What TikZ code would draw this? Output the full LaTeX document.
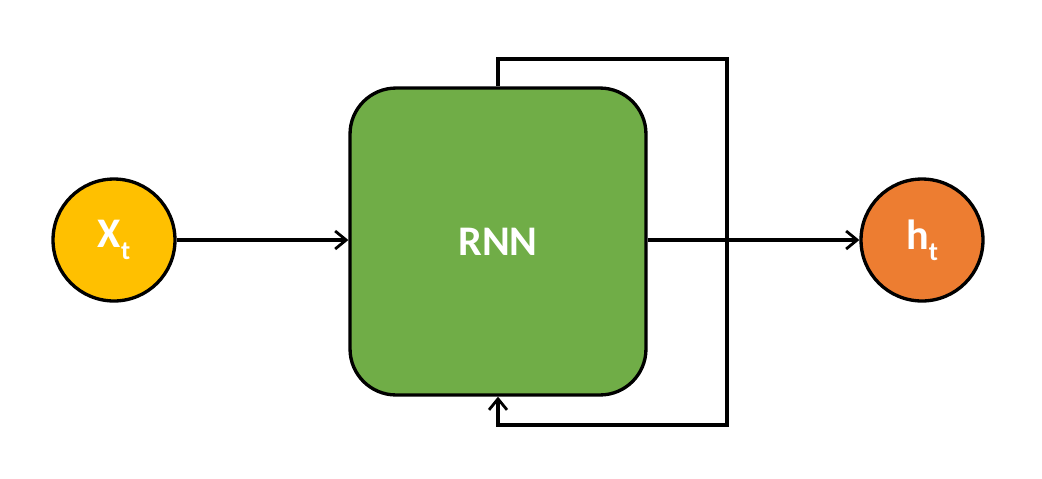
\documentclass[tikz,border=0pt]{standalone}
\usepackage{fontspec}
\setmainfont{Carlito}
\usepackage{tikz}
\usetikzlibrary{arrows.meta}
\definecolor{inyellow}{HTML}{FFC000}
\definecolor{cellgreen}{HTML}{70AD47}
\definecolor{outorange}{HTML}{ED7D31}
\newcommand{\lowsub}[1]{\raisebox{-0.55ex}{\fontsize{15}{15}\selectfont #1}}
\begin{document}
\begin{tikzpicture}[x=0.02cm,y=-0.02cm,
  line width=1.9pt,
  >={Straight Barb[length=2.2mm,width=3.6mm,line width=1.6pt]},
  unit/.style={circle,draw=black,minimum size=2.44cm,inner sep=0pt,
    font=\fontsize{24}{26}\selectfont\bfseries,text=white},
  cell/.style={draw=black,fill=cellgreen,rounded corners=0.92cm,
    minimum width=5.92cm,minimum height=6.14cm,inner sep=0pt,
    font=\fontsize{24}{26}\selectfont\bfseries,text=white}]
\useasboundingbox (0,0) rectangle (1042,478);
\node[unit,fill=inyellow] (xt) at (114,240) {X\lowsub{t}};
\node[cell] (rnn) at (498,241.5) {RNN};
\node[unit,fill=outorange] (ht) at (922,240) {h\lowsub{t}};
\coordinate (looptop) at (727,59);
\coordinate (loopbot) at (727,425);
\draw[->] (xt.east) -- (rnn.west |- xt.east);
\draw[->] (rnn.east |- ht.west) -- (ht.west);
\draw[->,rounded corners=0pt] (rnn.north) |- (looptop) -- (loopbot) -| (rnn.south);
\end{tikzpicture}
\end{document}
